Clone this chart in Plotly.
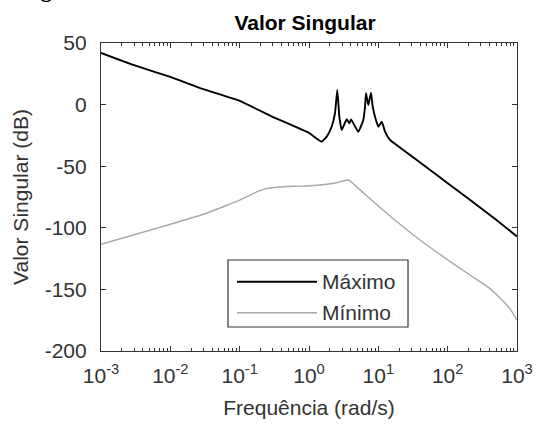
import plotly.graph_objects as go

# ---- data ----
freq_max = [0.001, 0.003, 0.01, 0.03, 0.1, 0.3, 1.0, 1.52, 1.80, 2.12, 2.37, 2.56, 2.74, 2.96,
            3.5, 3.82, 4.04, 5.14, 6.07, 6.43, 6.64, 7.17, 7.84, 8.3, 8.95, 10.0, 11.2, 12.5,
            14.7, 20, 50, 100, 200, 500, 1000]
db_max = [42, 32, 22.5, 12.5, 3, -10, -23, -30.1, -26, -18, -7, 11.9, -9.8, -20.6,
          -11.9, -15.2, -12, -22, -12.5, -1.7, 9.2, -0.3, 9.7, -1.7, -9.8, -18, -13.9, -22,
          -28.7, -34.4, -51, -63.8, -76.5, -93.5, -107]

freq_min = [0.001, 0.00635, 0.03, 0.058, 0.1, 0.13, 0.176, 0.22, 0.342, 0.6, 0.93, 1.44, 2.51,
            3.69, 5, 13.2, 39.9, 100, 210, 400, 569, 800, 990]
db_min = [-113.4, -100.4, -89, -82.9, -77.5, -74.5, -70.9, -68.8, -67.1, -66.3, -66.1, -65.3,
          -63.4, -61.2, -67.4, -88.2, -109.9, -126, -138.3, -149, -157, -166, -174.8]

x_tickvals = [1e-3, 1e-2, 1e-1, 1e0, 1e1, 1e2, 1e3]
x_ticktext = ["10<sup>-3</sup>", "10<sup>-2</sup>", "10<sup>-1</sup>", "10<sup>0</sup>",
              "10<sup>1</sup>", "10<sup>2</sup>", "10<sup>3</sup>"]
y_tickvals = [50, 0, -50, -100, -150, -200]
y_ticktext = ["50", "0", "-50", "-100", "-150", "-200"]

series_names = ["Máximo", "Mínimo"]
series_colors = ["#000000", "#a8a8a8"]

FONT = "Liberation Sans, Arial, sans-serif"
AX = "#333333"
FS = 21

fig = go.Figure()
fig.add_trace(go.Scatter(x=freq_max, y=db_max, mode="lines", name=series_names[0],
                         line=dict(color=series_colors[0], width=1.9, shape="spline", smoothing=0.4),
                         showlegend=False))
fig.add_trace(go.Scatter(x=freq_min, y=db_min, mode="lines", name=series_names[1],
                         line=dict(color=series_colors[1], width=1.4, shape="spline", smoothing=0.6),
                         showlegend=False))

# manual legend box (MATLAB style)
lx0, lx1, ly0, ly1 = 0.3053, 0.738, 0.0779, 0.2955
fig.add_shape(type="rect", xref="paper", yref="paper", x0=lx0, x1=lx1, y0=ly0, y1=ly1,
              line=dict(color=AX, width=1.2), fillcolor="white", layer="above")
for i, yy in enumerate([0.225, 0.1244]):
    fig.add_shape(type="line", xref="paper", yref="paper", x0=0.3269, x1=0.5192, y0=yy, y1=yy,
                  line=dict(color=series_colors[i], width=1.9 if i == 0 else 1.4), layer="above")
    fig.add_annotation(xref="paper", yref="paper", x=0.527, y=yy, text=series_names[i],
                       showarrow=False, xanchor="left", yanchor="middle",
                       font=dict(family=FONT, size=FS, color=AX))

# cut-off caption fragment at very top
fig.add_annotation(xref="paper", yref="paper", x=-0.2005, y=1.125, text="<b>Figura 3:</b>",
                   showarrow=False, xanchor="left", yanchor="bottom",
                   font=dict(family="Liberation Serif, Times New Roman, serif", size=23, color="#000"))

fig.update_layout(
    width=537, height=428,
    margin=dict(l=101, r=20, t=43, b=77, autoexpand=False),
    paper_bgcolor="white", plot_bgcolor="white",
    font=dict(family=FONT, size=FS, color=AX),
    title=dict(text="<b>Valor Singular</b>", x=0.568, xanchor="center", y=0.946, yanchor="middle",
               font=dict(family=FONT, size=FS, color="#000")),
)
fig.update_xaxes(
    type="log", range=[-3, 3], tickvals=x_tickvals, ticktext=x_ticktext, automargin=False,
    ticks="inside", ticklen=5, tickcolor=AX, showline=True, linecolor=AX, linewidth=1.2,
    mirror="ticks", showgrid=False, zeroline=False,
    minor=dict(ticks="inside", ticklen=3, tickcolor=AX, dtick="D1", showgrid=False),
    title=dict(text="Frequência (rad/s)", standoff=14, font=dict(family=FONT, size=FS, color=AX)),
    tickfont=dict(family=FONT, size=FS, color=AX), ticklabelstandoff=6,
)
fig.update_yaxes(
    range=[-200, 50], tickvals=y_tickvals, ticktext=y_ticktext, automargin=False,
    ticks="inside", ticklen=5, tickcolor=AX, showline=True, linecolor=AX, linewidth=1.2,
    mirror="ticks", showgrid=False, zeroline=False,
    title=dict(text="Valor Singular (dB)", standoff=10, font=dict(family=FONT, size=FS, color=AX)),
    tickfont=dict(family=FONT, size=FS, color=AX), ticklabelstandoff=9,
)

fig.write_html("out.html", config={"displayModeBar": False},
               post_script="document.body.style.margin='0';document.body.style.padding='0';"
                           "document.body.style.overflow='hidden';")
